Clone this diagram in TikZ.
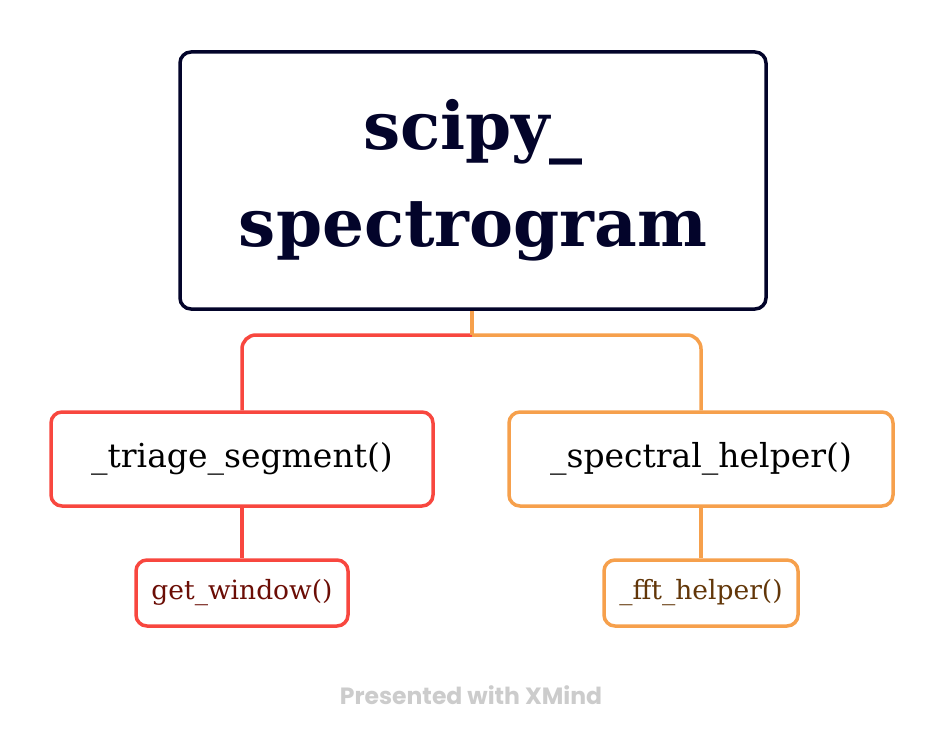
\documentclass[tikz,border=0pt]{standalone}
\usepackage{fontspec}
\setmainfont{DejaVu Serif}
\newfontfamily\wmfont{Poppins}
\definecolor{navy}{HTML}{03042A}
\definecolor{redl}{HTML}{F8473F}
\definecolor{orgl}{HTML}{F6A04C}
\definecolor{gwtext}{HTML}{6B0D05}
\definecolor{fftext}{HTML}{623608}
\definecolor{wm}{HTML}{CCCCCC}
\tikzset{
  box/.style={draw, line width=3.5pt, rounded corners=11pt, fill=white, inner sep=0pt},
  link/.style={line width=3.5pt, rounded corners=14pt},
}
\begin{document}
\begin{tikzpicture}[x=1pt,y=-1pt]
\useasboundingbox[fill=white] (0,0) rectangle (944,746);
\node[box, draw=navy, text=navy, minimum width=586pt, minimum height=257pt, align=center,
  font=\fontsize{66}{97}\selectfont\bfseries] (root) at (473,180.5) {scipy\_\\spectrogram};
\node[box, draw=redl, minimum width=382pt, minimum height=94pt,
  font=\fontsize{33}{38}\selectfont] (c1) at (242,459) {\_triage\_segment()};
\node[box, draw=orgl, minimum width=384pt, minimum height=94pt,
  font=\fontsize{33}{38}\selectfont] (c2) at (701,459) {\_spectral\_helper()};
\node[box, draw=redl, text=gwtext, minimum width=212pt, minimum height=66pt,
  font=\fontsize{26.5}{30}\selectfont] (g1) at (242,593) {get\_window()};
\node[box, draw=orgl, text=fftext, minimum width=194pt, minimum height=66pt,
  font=\fontsize{26.5}{30}\selectfont] (g2) at (701,593) {\_fft\_helper()};
\coordinate (j) at (472,335);
\draw[link, draw=redl] (j) -| (c1.north);
\draw[link, draw=orgl] (j) -| (c2.north);
\draw[line width=3.5pt, draw=orgl] (root.south -| j) -- (j);
\draw[line width=3.5pt, draw=redl] (c1.south) -- (g1.north);
\draw[line width=3.5pt, draw=orgl] (c2.south) -- (g2.north);
\node[text=wm, font=\wmfont\fontsize{23.5}{28}\selectfont\bfseries] (wmk) at (471,695) {Presented with XMind};
\end{tikzpicture}
\end{document}
